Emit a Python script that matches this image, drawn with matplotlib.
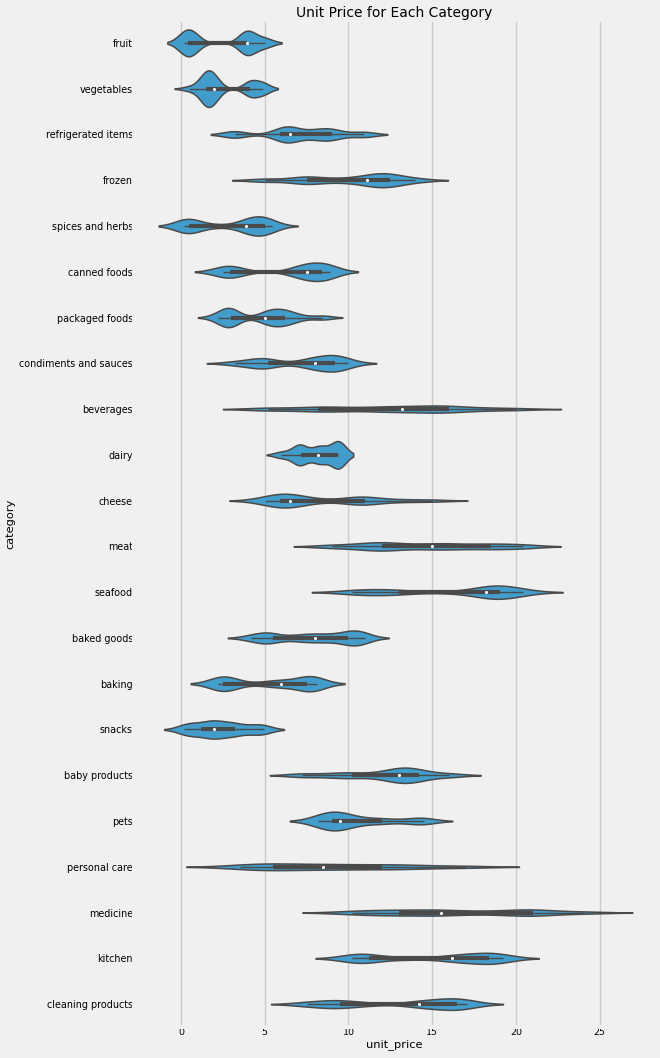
import numpy as np
import matplotlib.pyplot as plt

plt.style.use('fivethirtyeight')

categories = ['fruit', 'vegetables', 'refrigerated items', 'frozen', 'spices and herbs',
              'canned foods', 'packaged foods', 'condiments and sauces', 'beverages', 'dairy',
              'cheese', 'meat', 'seafood', 'baked goods', 'baking', 'snacks', 'baby products',
              'pets', 'personal care', 'medicine', 'kitchen', 'cleaning products']

# distinct unit prices per category and how many rows carry each price
fruit_prices = [0.2, 0.45, 0.8, 3.95, 5.0]
fruit_counts = [120, 160, 100, 300, 110]
vegetables_prices = [0.5, 1.5, 2.0, 4.15, 4.9]
vegetables_counts = [20, 130, 80, 70, 50]
refrigerated_prices = [3.2, 5.9, 6.5, 8.0, 9.0, 10.9]
refrigerated_counts = [48, 38, 86, 48, 66, 38]
frozen_prices = [5.0, 7.5, 9.5, 11.1, 12.0, 12.5, 14.0]
frozen_counts = [15, 35, 15, 25, 25, 30, 15]
spices_prices = [0.2, 0.5, 2.0, 3.9, 4.5, 5.0, 5.45]
spices_counts = [13, 32, 8, 24, 16, 30, 6]
canned_prices = [2.5, 2.9, 3.5, 7.0, 7.5, 8.4, 8.9]
canned_counts = [20, 50, 10, 30, 40, 60, 30]
packaged_prices = [2.2, 2.8, 3.0, 5.0, 5.5, 6.2, 7.0, 8.45]
packaged_counts = [22, 45, 56, 34, 45, 56, 22, 22]
condiments_prices = [3.2, 4.5, 5.2, 7.5, 8.0, 9.0, 9.2, 10.0]
condiments_counts = [10, 18, 20, 12, 18, 18, 24, 12]
beverages_prices = [5.2, 8.2, 10.0, 12.0, 13.2, 15.0, 16.0, 18.0, 20.0]
beverages_counts = [36, 54, 24, 36, 36, 45, 45, 24, 21]
dairy_prices = [6.0, 7.0, 7.2, 8.2, 8.5, 9.4]
dairy_counts = [10, 20, 15, 20, 10, 45]
cheese_prices = [5.0, 5.9, 6.5, 8.0, 10.5, 11.0, 13.0, 15.0]
cheese_counts = [16, 32, 42, 16, 24, 24, 13, 11]
meat_prices = [9.0, 11.0, 12.0, 13.0, 15.0, 16.5, 18.5, 20.4]
meat_counts = [30, 36, 45, 30, 45, 36, 45, 36]
seafood_prices = [10.2, 11.5, 13.0, 16.0, 18.2, 19.0, 19.2, 20.4]
seafood_counts = [23, 28, 28, 14, 46, 35, 35, 23]
baked_prices = [4.2, 5.0, 5.5, 7.0, 8.0, 9.0, 10.0, 10.5, 11.0]
baked_counts = [32, 48, 40, 40, 48, 40, 52, 60, 32]
baking_prices = [2.2, 2.5, 3.0, 5.0, 6.0, 7.5, 7.8, 8.15]
baking_counts = [21, 38, 25, 13, 29, 38, 25, 21]
snacks_prices = [0.2, 0.6, 1.2, 1.7, 2.0, 2.5, 3.2, 4.3, 4.95]
snacks_counts = [10, 10, 8, 8, 16, 8, 18, 10, 12]
baby_prices = [7.2, 9.0, 10.2, 12.0, 13.0, 13.5, 14.2, 16.0]
baby_counts = [13, 10, 16, 13, 26, 17, 22, 13]
pets_prices = [8.2, 9.0, 9.5, 10.5, 12.0, 14.0, 14.5]
pets_counts = [15, 20, 20, 12, 12, 8, 10]
personal_prices = [3.5, 5.0, 5.5, 7.0, 8.5, 10.0, 12.0, 14.0, 17.0]
personal_counts = [12, 14, 10, 12, 14, 12, 16, 14, 10]
medicine_prices = [10.2, 12.0, 13.0, 15.0, 15.5, 18.0, 20.5, 21.0, 24.0]
medicine_counts = [20, 20, 20, 20, 24, 20, 20, 34, 16]
kitchen_prices = [10.2, 10.8, 11.2, 13.5, 16.2, 17.0, 18.4, 19.2]
kitchen_counts = [33, 40, 33, 26, 40, 33, 76, 33]
cleaning_prices = [7.5, 9.0, 9.5, 11.0, 14.2, 15.5, 16.5, 17.1]
cleaning_counts = [37, 44, 37, 30, 55, 48, 74, 30]

all_prices = [fruit_prices, vegetables_prices, refrigerated_prices, frozen_prices, spices_prices,
              canned_prices, packaged_prices, condiments_prices, beverages_prices, dairy_prices,
              cheese_prices, meat_prices, seafood_prices, baked_prices, baking_prices, snacks_prices,
              baby_prices, pets_prices, personal_prices, medicine_prices, kitchen_prices,
              cleaning_prices]
all_counts = [fruit_counts, vegetables_counts, refrigerated_counts, frozen_counts, spices_counts,
              canned_counts, packaged_counts, condiments_counts, beverages_counts, dairy_counts,
              cheese_counts, meat_counts, seafood_counts, baked_counts, baking_counts, snacks_counts,
              baby_counts, pets_counts, personal_counts, medicine_counts, kitchen_counts,
              cleaning_counts]


def kde_curve(values, gridsize=200, cut=2):
    # gaussian kde with scott bandwidth, like seaborn's violinplot
    n = len(values)
    bw = values.std(ddof=1) * n ** (-1 / 5)
    support = np.linspace(values.min() - cut * bw, values.max() + cut * bw, gridsize)
    z = (support[:, None] - values[None, :]) / bw
    dens = np.exp(-0.5 * z ** 2).sum(axis=1) / (n * bw * np.sqrt(2 * np.pi))
    return support, dens


def box_stats(values):
    q1, med, q3 = np.percentile(values, [25, 50, 75])
    iqr = q3 - q1
    lo = values[values >= q1 - 1.5 * iqr].min()
    hi = values[values <= q3 + 1.5 * iqr].max()
    return lo, q1, med, q3, hi


fill = '#429dcc'
edge = '#4a4a4a'

curves = []
for p, c in zip(all_prices, all_counts):
    vals = np.repeat(np.array(p, dtype=float), c)
    curves.append((vals, *kde_curve(vals)))
dmax = max(d.max() for _, _, d in curves)

fig = plt.figure(figsize=(6.6, 10.58), dpi=100)
fig.patch.set_facecolor('#f0f0f0')
ax = fig.add_axes([0.2036, 0.0293, 0.7888, 0.9518])

for i, (vals, sup, dens) in enumerate(curves):
    hw = 0.4 * dens / dmax
    ax.fill_between(sup, i - hw, i + hw, facecolor=fill, edgecolor=edge, linewidth=1.1, zorder=2)
    lo, q1, med, q3, hi = box_stats(vals)
    ax.plot([lo, hi], [i, i], color=edge, lw=1, solid_capstyle='butt', zorder=3)
    ax.plot([q1, q3], [i, i], color=edge, lw=3, solid_capstyle='butt', zorder=3)
    ax.scatter([med], [i], s=5, color='white', linewidths=0, zorder=4)

ax.set_xlim(-2.78, 28.3)
ax.set_ylim(len(categories) - 0.5, -0.5)
ax.set_yticks(range(len(categories)))
ax.set_yticklabels(categories)
ax.set_xticks([0, 5, 10, 15, 20, 25])
ax.tick_params(axis='y', labelsize=6.9, pad=1)
ax.tick_params(axis='x', labelsize=6.8, pad=1)
ax.grid(axis='y', visible=False)
ax.grid(axis='x', color='#cbcbcb', linewidth=1)
ax.set_xlabel('unit_price', fontsize=8.2, labelpad=1)
ax.set_ylabel('category', fontsize=8.2)
ax.yaxis.set_label_coords(-0.229, 0.5)
ax.set_title('Unit Price for Each Category', fontsize=10, pad=2.5)

fig.savefig('out.png', dpi=100, facecolor='#f0f0f0')
